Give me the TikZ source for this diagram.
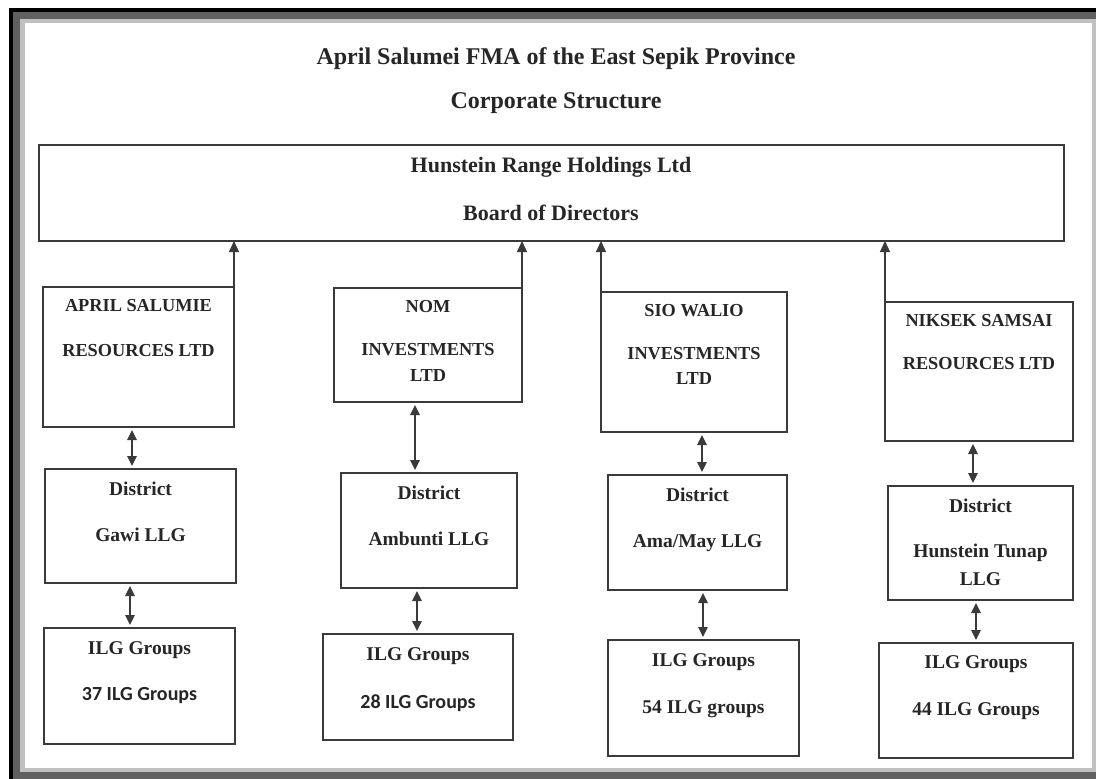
\documentclass[tikz,border=0pt]{standalone}
\usepackage{fontspec}
\setmainfont{Liberation Serif}
\newfontfamily\calfont{Carlito}
\usetikzlibrary{arrows.meta,fit}
\definecolor{linec}{HTML}{3A3A3A}
\definecolor{txtc}{HTML}{262626}
\definecolor{frdark}{HTML}{606060}
\definecolor{frlight}{HTML}{C0C0C0}
\begin{document}
\begin{tikzpicture}[x=1pt,y=-1pt,
  box/.style={draw=linec, line width=1.3pt, inner sep=0pt, outer sep=0pt},
  ttl/.style={font=\bfseries\fontsize{24}{28}\selectfont, text=txtc, inner sep=0pt},
  toptxt/.style={font=\bfseries\fontsize{22}{26}\selectfont, text=txtc, inner sep=0pt},
  comp/.style={font=\bfseries\fontsize{18.3}{22}\selectfont, text=txtc, inner sep=0pt},
  dist/.style={font=\bfseries\fontsize{19.5}{23}\selectfont, text=txtc, inner sep=0pt},
  cal/.style={font=\calfont\bfseries\fontsize{20}{24}\selectfont, text=txtc, inner sep=0pt},
  up/.style={draw=linec, line width=1.2pt, -{Triangle[width=10pt,length=11pt]}},
  both/.style={draw=linec, line width=1.2pt, {Triangle[width=9.5pt,length=10pt]}-{Triangle[width=9.5pt,length=10pt]}, shorten <=3pt, shorten >=3pt}]
\useasboundingbox (0,0) rectangle (1096,779);
% frame
\fill[black] (9,8) rectangle (1096,779);
\fill[frdark] (13,12) rectangle (1096,779);
\fill[frlight] (20,19) rectangle (1096,772);
\fill[white] (25,23) rectangle (1092,768);

% titles
\node[ttl] (title1) at (556,59) {April Salumei FMA of the East Sepik Province};
\node[ttl] (title2) at (556,103) {Corporate Structure};

% top box
\node[box, fit={(39,145) (1064,241)}] (top) {};
\node[toptxt] (topa) at (551,167) {Hunstein Range Holdings Ltd};
\node[toptxt] (topb) at (551,213) {Board of Directors};

% column 1
\node[box, fit={(43,287) (234,427)}] (c1) {};
\node[box, fit={(45,469) (236,583)}] (d1) {};
\node[box, fit={(44,628) (235,744)}] (g1) {};
\node[comp] (c1a) at (138.5,305.5) {APRIL SALUMIE};
\node[comp] (c1b) at (138.5,351) {RESOURCES LTD};
\node[dist] (d1a) at (140.5,489) {District};
\node[dist] (d1b) at (140.5,535) {Gawi LLG};
\node[dist] (g1a) at (139.5,650) {ILG Groups};
\node[cal] (g1b) at (139.5,696) {37 ILG Groups};

% column 2
\node[box, fit={(334,288) (522,402)}] (c2) {};
\node[box, fit={(341,473) (517,588)}] (d2) {};
\node[box, fit={(323,634) (513,740)}] (g2) {};
\node[comp] (c2a) at (428,307) {NOM};
\node[comp] (c2b) at (428,350) {INVESTMENTS};
\node[comp] (c2c) at (428,375.5) {LTD};
\node[dist] (d2a) at (429,493) {District};
\node[dist] (d2b) at (429,539) {Ambunti LLG};
\node[dist] (g2a) at (418,656) {ILG Groups};
\node[cal] (g2b) at (418,703) {28 ILG Groups};

% column 3
\node[box, fit={(601,292) (787,432)}] (c3) {};
\node[box, fit={(608,475) (787,590)}] (d3) {};
\node[box, fit={(608,640) (799,756)}] (g3) {};
\node[comp] (c3a) at (694,311) {SIO WALIO};
\node[comp] (c3b) at (694,354) {INVESTMENTS};
\node[comp] (c3c) at (694,379) {LTD};
\node[dist] (d3a) at (697.5,495) {District};
\node[dist] (d3b) at (697.5,543) {Ama/May LLG};
\node[dist] (g3a) at (703.5,662) {ILG Groups};
\node[dist] (g3b) at (703.5,709) {54 ILG groups};

% column 4
\node[box, fit={(885,302) (1073,441)}] (c4) {};
\node[box, fit={(888,486) (1073,600)}] (d4) {};
\node[box, fit={(879,643) (1073,758)}] (g4) {};
\node[comp] (c4a) at (979,321) {NIKSEK SAMSAI};
\node[comp] (c4b) at (979,364) {RESOURCES LTD};
\node[dist] (d4a) at (980.5,506) {District};
\node[dist] (d4b) at (980.5,553) {Hunstein Tunap};
\node[dist] (d4c) at (980.5,579) {LLG};
\node[dist] (g4a) at (976,664) {ILG Groups};
\node[dist] (g4b) at (976,711) {44 ILG Groups};

% connectors to board
\draw[up] (c1.north east) -- (c1.north east |- top.south);
\draw[up] (c2.north east) -- (c2.north east |- top.south);
\draw[up] (c3.north west) -- (c3.north west |- top.south);
\draw[up] (c4.north west) -- (c4.north west |- top.south);

% double arrows
\coordinate (x1a) at (132,0);
\coordinate (x1b) at (130,0);
\coordinate (x2a) at (415,0);
\coordinate (x2b) at (417,0);
\coordinate (x3a) at (702,0);
\coordinate (x3b) at (703,0);
\coordinate (x4a) at (973,0);
\coordinate (x4b) at (976,0);
\draw[both] (x1a |- c1.south) -- (x1a |- d1.north);
\draw[both] (x1b |- d1.south) -- (x1b |- g1.north);
\draw[both] (x2a |- c2.south) -- (x2a |- d2.north);
\draw[both] (x2b |- d2.south) -- (x2b |- g2.north);
\draw[both] (x3a |- c3.south) -- (x3a |- d3.north);
\draw[both] (x3b |- d3.south) -- (x3b |- g3.north);
\draw[both] (x4a |- c4.south) -- (x4a |- d4.north);
\draw[both] (x4b |- d4.south) -- (x4b |- g4.north);
\end{tikzpicture}
\end{document}
